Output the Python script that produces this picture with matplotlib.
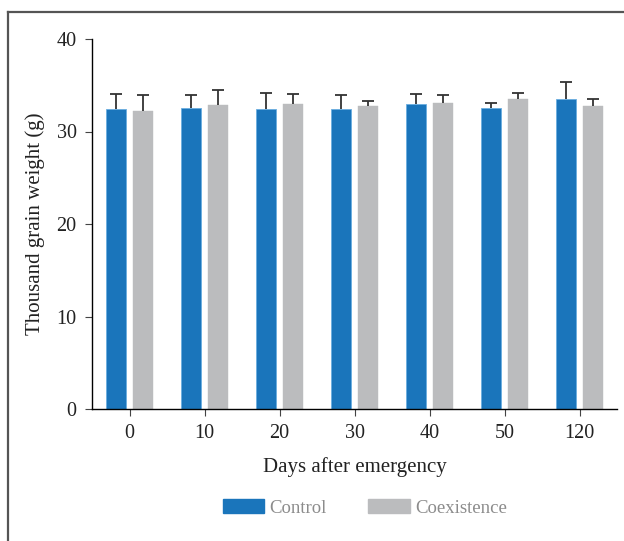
import matplotlib
matplotlib.use("Agg")
import matplotlib.pyplot as plt
import numpy as np
from matplotlib.patches import Patch
from matplotlib.lines import Line2D

days = ["0", "10", "20", "30", "40", "50", "120"]
control = [32.4, 32.5, 32.4, 32.4, 33.0, 32.5, 33.5]
control_err = [1.7, 1.4, 1.8, 1.5, 1.1, 0.6, 1.9]
coexistence = [32.2, 32.9, 33.0, 32.8, 33.1, 33.5, 32.8]
coexistence_err = [1.7, 1.6, 1.1, 0.5, 0.8, 0.7, 0.7]
yticks = [0, 10, 20, 30, 40]

plt.rcParams['font.family'] = ['Liberation Serif', 'DejaVu Serif']

fig = plt.figure(figsize=(6.24, 5.41), dpi=100)
ax = fig.add_axes([92/624, 1-409/541, 525/624, 370/541])

x = np.arange(len(days))
w = 0.27
off = 0.183
blue = '#1a75bb'
gray = '#bbbcbe'

ax.bar(x - off, control, width=w, color=blue, edgecolor='#6aaee0', linewidth=0.6, zorder=2)
ax.bar(x + off, coexistence, width=w, color=gray, edgecolor=gray, linewidth=0.3, zorder=2)

for xs, vals, errs in [(x - off, control, control_err), (x + off, coexistence, coexistence_err)]:
    _, caps, _ = ax.errorbar(xs, vals, yerr=[np.zeros(len(vals)), errs], fmt='none',
                             ecolor='#333333', elinewidth=1.3, capsize=4, capthick=1.3, zorder=3)
    caps[0].set_visible(False)

ax.set_xlim(-0.5, 6.5)
ax.set_ylim(0, 40)
ax.set_xticks(x)
ax.set_xticklabels(days, fontsize=14.5, color='#222222')
ax.set_yticks(yticks)
ax.set_yticklabels([str(t) for t in yticks], fontsize=14.5, color='#222222')
ax.spines['top'].set_visible(False)
ax.spines['right'].set_visible(False)
ax.spines['left'].set_linewidth(1.0)
ax.spines['bottom'].set_linewidth(1.0)
ax.tick_params(axis='both', direction='out', length=5, width=0.8, color='#444444', pad=6)
ax.set_xlabel("Days after emergency", fontsize=15, color='#222222', labelpad=10)
ax.set_ylabel("Thousand grain weight (g)", fontsize=15, color='#222222', labelpad=8)

handles = [Patch(facecolor=blue, edgecolor=blue), Patch(facecolor=gray, edgecolor=gray)]
leg = fig.legend(handles, ["Control", "Coexistence"], loc='center',
                 bbox_to_anchor=(365/624, 1-508/541), ncol=2, frameon=False,
                 fontsize=13.5, handlelength=2.2, handleheight=0.7, columnspacing=2.2,
                 handletextpad=0.3)
for t in leg.get_texts():
    t.set_color('#8c8c8c')

# outer frame: top and left borders
fig.add_artist(Line2D([7.5/624, 7.5/624], [0, 1-11.5/541], transform=fig.transFigure,
                      color='#555555', linewidth=1.6))
fig.add_artist(Line2D([7.5/624, 1], [1-11.5/541, 1-11.5/541], transform=fig.transFigure,
                      color='#555555', linewidth=1.6))

fig.savefig("out.png", dpi=100)
